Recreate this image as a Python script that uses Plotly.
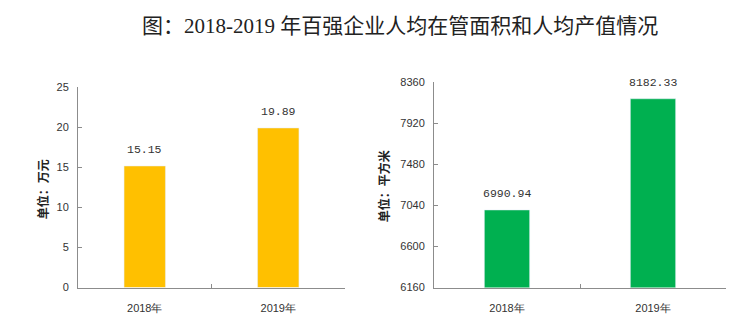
import plotly.graph_objects as go

# ---- data ----
title_text = "图：2018-2019 年百强企业人均在管面积和人均产值情况"
years = ["2018年", "2019年"]
output_per_capita = [15.15, 19.89]          # 万元
area_per_capita = [6990.94, 8182.33]        # 平方米
left_ytitle = "单位：万元"
right_ytitle = "单位：平方米"

W, H = 737, 335
def px(x): return x / W
def py(y): return 1 - y / H

fig = go.Figure()
fig.add_trace(go.Bar(x=years, y=output_per_capita, marker_color="#FFC000",
                     width=0.31, xaxis="x", yaxis="y", hoverinfo="skip"))
fig.add_trace(go.Bar(x=years, y=area_per_capita, marker_color="#00B050",
                     width=0.31, xaxis="x2", yaxis="y2", hoverinfo="skip"))

axis_col = "#8C8C8C"
tickfont = dict(family="Liberation Sans, Arial", size=11, color="#333333")
common_x = dict(type="category", showline=True, linecolor=axis_col, linewidth=1,
                ticks="inside", ticklen=4, tickcolor=axis_col, tickson="boundaries",
                showgrid=False, zeroline=False, tickfont=tickfont, fixedrange=True,
                ticklabelstandoff=10)
common_y = dict(showline=True, linecolor=axis_col, linewidth=1, ticks="inside",
                ticklen=4, tickcolor=axis_col, showgrid=False, zeroline=False,
                tickfont=tickfont, fixedrange=True, ticklabelstandoff=6)

fig.update_layout(
    width=W, height=H, margin=dict(l=0, r=0, t=0, b=0),
    paper_bgcolor="white", plot_bgcolor="white", showlegend=False,
    xaxis=dict(domain=[px(78), px(345)], anchor="y", **common_x),
    yaxis=dict(domain=[py(292), py(84)], anchor="x", range=[0, 25], dtick=5, **common_y),
    xaxis2=dict(domain=[px(434), px(726)], anchor="y2", **common_x),
    yaxis2=dict(domain=[py(292), py(79)], anchor="x2", range=[6160, 8360], dtick=440, **common_y),
)

ann = []
ann.append(dict(text=title_text, xref="paper", yref="paper", x=px(400), y=py(21),
                xanchor="center", yanchor="middle", showarrow=False,
                font=dict(family="Liberation Serif, Noto Sans CJK SC", size=21, color="#222222")))
ann.append(dict(text="<b>" + left_ytitle + "</b>", xref="paper", yref="paper", x=px(42), y=py(190),
                textangle=-90, showarrow=False, xanchor="center", yanchor="middle",
                font=dict(family="Noto Sans CJK SC", size=12, color="#222222")))
ann.append(dict(text="<b>" + right_ytitle + "</b>", xref="paper", yref="paper", x=px(383), y=py(187),
                textangle=-90, showarrow=False, xanchor="center", yanchor="middle",
                font=dict(family="Noto Sans CJK SC", size=12, color="#222222")))
lblfont = dict(family="Liberation Mono, monospace", size=11.5, color="#333333")
for xv, yv in zip(years, output_per_capita):
    ann.append(dict(text=f"{yv:.2f}", x=xv, y=yv, xref="x", yref="y", showarrow=False,
                    yanchor="bottom", yshift=8, font=lblfont))
for xv, yv in zip(years, area_per_capita):
    ann.append(dict(text=f"{yv:.2f}", x=xv, y=yv, xref="x2", yref="y2", showarrow=False,
                    yanchor="bottom", yshift=8, font=lblfont))
fig.update_layout(annotations=ann)

fig.write_html("out.html")
